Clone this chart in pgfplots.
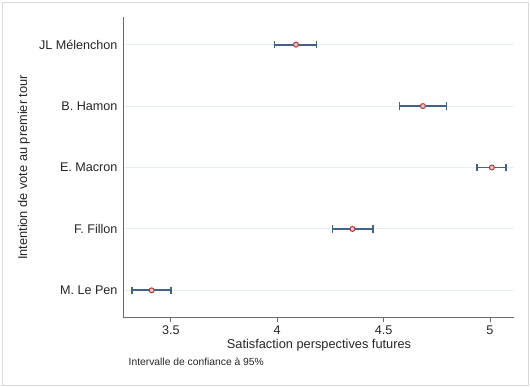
\documentclass[border=0pt]{standalone}
\usepackage{pgfplots}
\pgfplotsset{compat=1.18}
\usepackage{fontspec}
\setmainfont{Liberation Sans}
\definecolor{barcol}{HTML}{3F6488}
\definecolor{mkred}{HTML}{B83A3A}
\definecolor{mkfill}{HTML}{E2C6C6}
\definecolor{gridc}{HTML}{E6EFF1}
\definecolor{axc}{HTML}{6A6A6A}
\begin{document}
\begin{tikzpicture}
\path[use as bounding box] (-124pt,-69pt) rectangle (406pt,318pt);
\draw[color=black!15, line width=0.8pt] (-122pt,-67pt) rectangle (404pt,316pt);
\begin{axis}[
  scale only axis,
  width=390pt, height=301pt,
  xmin=3.28, xmax=5.113,
  ymin=0.55, ymax=5.45,
  axis x line*=bottom, axis y line*=left,
  axis line style={axc, line width=1pt, -},
  xtick={3.5,4,4.5,5},
  xticklabels={3.5,4,4.5,5},
  ytick={1,2,3,4,5},
  yticklabels={M. Le Pen,F. Fillon,E. Macron,B. Hamon,JL Mélenchon},
  tick align=outside,
  major tick length=4pt,
  x tick style={axc, line width=0.8pt},
  y tick style={draw=none},
  ymajorgrids,
  grid style={gridc, line width=1pt},
  tick label style={font=\fontsize{12.6}{14}\selectfont, text=black!85},
  yticklabel style={xshift=1pt},
  xlabel={Satisfaction perspectives futures},
  ylabel={Intention de vote au premier tour},
  label style={font=\fontsize{12.8}{14}\selectfont, text=black!85},
  xlabel style={at={(axis description cs:0.5,-0.0897)}, anchor=center},
  ylabel style={at={(axis description cs:-0.257,0.5)}, anchor=center},
  clip=false,
]
\addplot+[only marks, mark=*, mark size=2.5pt,
  mark options={draw=mkred, fill=mkfill, line width=1pt},
  error bars/.cd, x dir=both, x explicit,
  error bar style={barcol, line width=1.9pt},
  error mark options={barcol, line width=1.4pt, mark size=3.6pt, rotate=90}]
  table[x=m, y=pos, x error plus=ep, x error minus=em] {
  pos m     em    ep
  5   4.088 0.100 0.097
  4   4.685 0.110 0.110
  3   5.009 0.069 0.067
  2   4.354 0.094 0.096
  1   3.410 0.092 0.090
};
\node[anchor=west, font=\fontsize{10.3}{12}\selectfont, text=black!85] at (axis description cs:0.003,-0.146) {Intervalle de confiance à 95\%};
\end{axis}
\end{tikzpicture}
\end{document}
